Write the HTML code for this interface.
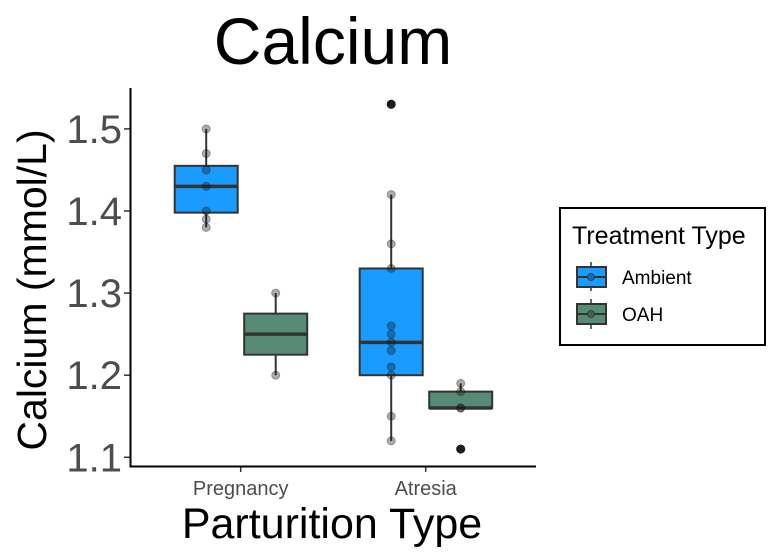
<!DOCTYPE html>
<html><head><meta charset="utf-8"><style>
body{margin:0;background:#fff;}
svg{display:block;font-family:"Liberation Sans",Arial,sans-serif;}
</style></head><body>
<svg id="chart" width="778" height="559" viewBox="0 0 778 559">
<text x="333" y="64" font-size="66" text-anchor="middle" fill="#000">Calcium</text>
<text transform="translate(46,290) rotate(-90)" font-size="41" text-anchor="middle" fill="#000">Calcium (mmol/L)</text>
<text x="332" y="538" font-size="43" text-anchor="middle" fill="#000">Parturition Type</text>
<g id="marks"></g>
<g id="axes"></g>
<g>
<rect x="560" y="208" width="205" height="137" fill="#fff" stroke="#000" stroke-width="2"/>
<text x="572" y="244" font-size="25" fill="#000">Treatment Type</text>
<g>
<line x1="591" y1="262" x2="591" y2="291" stroke="#333" stroke-width="1.5"/>
<rect x="577" y="267" width="29" height="20" fill="#1a9bff" stroke="#333" stroke-width="2"/>
<line x1="577" y1="277" x2="606" y2="277" stroke="#333" stroke-width="2"/>
<circle cx="591" cy="277" r="3.5" fill="#1a6aa8" stroke="#333" stroke-width="0.8"/>
<text x="622" y="284" font-size="19" fill="#000">Ambient</text></g>
<g>
<line x1="591" y1="299" x2="591" y2="329" stroke="#333" stroke-width="1.5"/>
<rect x="577" y="304" width="29" height="20" fill="#588b76" stroke="#333" stroke-width="2"/>
<line x1="577" y1="314" x2="606" y2="314" stroke="#333" stroke-width="2"/>
<circle cx="591" cy="314" r="3.5" fill="#3e6354" stroke="#333" stroke-width="0.8"/>
<text x="622" y="321" font-size="19" fill="#000">OAH</text></g>
</g>
</svg>
<script>
const categories = ["Pregnancy", "Atresia"];
const groups = ["Ambient", "OAH"];
const colors = ["#1a9bff", "#588b76"];
const yTicks = [1.1, 1.2, 1.3, 1.4, 1.5];
// box stats per [category][group]: [lowWhisker, q1, median, q3, highWhisker]
const boxStats = [
  [[1.38, 1.398, 1.43, 1.455, 1.5], [1.2, 1.225, 1.25, 1.275, 1.3]],
  [[1.12, 1.2, 1.24, 1.33, 1.42], [1.16, 1.16, 1.16, 1.18, 1.19]]
];
const outliers = [[[], []], [[1.53], [1.11]]];
const points = [
  [[1.5, 1.47, 1.45, 1.43, 1.40, 1.39, 1.38], [1.3, 1.2]],
  [[1.53, 1.42, 1.36, 1.33, 1.26, 1.25, 1.24, 1.23, 1.21, 1.20, 1.15, 1.12], [1.19, 1.18, 1.16, 1.16, 1.11]]
];
const NS = "http://www.w3.org/2000/svg";
const y = v => 457.3 - (v - 1.1) * 821;
const xCat = i => 240.7 + i * 185;
const xGroup = (i, g) => xCat(i) + (g === 0 ? -34.5 : 35);
const BW = 63;
function mk(tag, attrs, parent) {
  const e = document.createElementNS(NS, tag);
  for (const k in attrs) e.setAttribute(k, attrs[k]);
  parent.appendChild(e); return e;
}
const marks = document.getElementById("marks");
const axes = document.getElementById("axes");
categories.forEach((c, i) => {
  groups.forEach((gname, g) => {
    const s = boxStats[i][g], cx = xGroup(i, g);
    const grp = mk("g", {}, marks);
    
    
    mk("line", {x1: cx, x2: cx, y1: y(s[4]), y2: y(s[3]), stroke: "#333", "stroke-width": 2}, grp);
    mk("line", {x1: cx, x2: cx, y1: y(s[1]), y2: y(s[0]), stroke: "#333", "stroke-width": 2}, grp);
    mk("rect", {x: cx - BW / 2, y: y(s[3]), width: BW, height: Math.max(0, y(s[1]) - y(s[3])), fill: colors[g], stroke: "#333", "stroke-width": 2}, grp);
    mk("line", {x1: cx - BW / 2, x2: cx + BW / 2, y1: y(s[2]), y2: y(s[2]), stroke: "#333", "stroke-width": 3.5}, grp);
    outliers[i][g].forEach(v => {
      const o = mk("circle", {cx: cx, cy: y(v), r: 4.5, fill: "#222"}, grp);
      
      
    });
    points[i][g].forEach(v => {
      const p = mk("circle", {cx: cx, cy: y(v), r: 4, fill: "rgba(20,20,20,0.35)", stroke: "rgba(20,20,20,0.35)", "stroke-width": 1}, grp);
      
      
    });
  });
  const t = mk("line", {x1: xCat(i), x2: xCat(i), y1: 466, y2: 472, stroke: "#333", "stroke-width": 1.5}, axes);
  
  
  const lbl = mk("text", {x: xCat(i), y: 495, "font-size": 20, "text-anchor": "middle", fill: "#4d4d4d"}, axes);
  lbl.textContent = c;
  
  
});
yTicks.forEach(v => {
  const t = mk("line", {x1: 124, x2: 130, y1: y(v), y2: y(v), stroke: "#333", "stroke-width": 1.5}, axes);
  
  
  const lbl = mk("text", {x: 122, y: y(v) + 14, "font-size": 40, "text-anchor": "end", fill: "#4d4d4d"}, axes);
  lbl.textContent = v.toFixed(1);
  
  
});
const ya = mk("line", {x1: 130.5, x2: 130.5, y1: 88, y2: 467.5, stroke: "#000", "stroke-width": 2}, axes);


const xa = mk("line", {x1: 129.5, x2: 536, y1: 466.5, y2: 466.5, stroke: "#000", "stroke-width": 2}, axes);


</script>
</body></html>
